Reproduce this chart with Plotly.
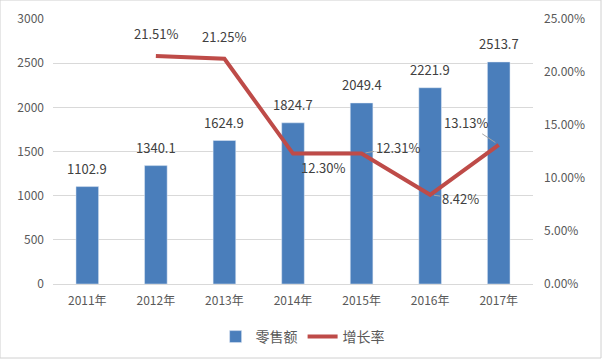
import plotly.graph_objects as go

years = ["2011年", "2012年", "2013年", "2014年", "2015年", "2016年", "2017年"]
sales = [1102.9, 1340.1, 1624.9, 1824.7, 2049.4, 2221.9, 2513.7]
growth_years = ["2012年", "2013年", "2014年", "2015年", "2016年", "2017年"]
growth = [0.2151, 0.2125, 0.1230, 0.1231, 0.0842, 0.1313]
growth_labels = ["21.51%", "21.25%", "12.30%", "12.31%", "8.42%", "13.13%"]
# label pixel offsets (dx, dy-down) relative to each growth point, and leader flag
growth_offsets = [(0, -22, False), (0, -22, False), (30, 14, False),
                  (36, -6, True), (30, 4, True), (-33, -22, True)]

FONT = "Noto Sans CJK SC, Noto Sans, sans-serif"
TICK = "#595959"
BLUE = "#4A7EBB"
RED = "#BE4B48"

fig = go.Figure()
fig.add_trace(go.Bar(x=years, y=sales, name="零售额", marker_color=BLUE,
                     width=0.33, yaxis="y"))
fig.add_trace(go.Scatter(x=growth_years, y=growth, name="增长率", mode="lines",
                         line=dict(color=RED, width=4), yaxis="y2"))

lab_font = dict(size=13, color="#404040", family=FONT)
ann = []
for x, v in zip(years, sales):
    ann.append(dict(x=x, y=v, xref="x", yref="y", text=f"{v:.1f}", showarrow=False,
                    yshift=18, font=lab_font))
for x, v, t, (dx, dy, lead) in zip(growth_years, growth, growth_labels, growth_offsets):
    if lead:
        ann.append(dict(x=x, y=v, xref="x", yref="y2", text=t, showarrow=True,
                        ax=dx, ay=dy, arrowhead=0, arrowwidth=1, arrowcolor="#A6A6A6",
                        standoff=4, font=lab_font))
    else:
        ann.append(dict(x=x, y=v, xref="x", yref="y2", text=t, showarrow=False,
                        xshift=dx, yshift=-dy, font=lab_font))

fig.update_layout(
    width=604, height=362,
    margin=dict(l=53, r=71, t=19, b=78, autoexpand=False),
    paper_bgcolor="white", plot_bgcolor="white",
    font=dict(family=FONT, color=TICK, size=12),
    xaxis=dict(showgrid=False, showline=True, linecolor="#D9D9D9", ticks="",
               tickfont=dict(size=12, color=TICK), ticklabelstandoff=6),
    yaxis=dict(range=[0, 3000], dtick=500, showgrid=True, gridcolor="#D9D9D9",
               zeroline=False, tickfont=dict(size=12, color=TICK), ticklabelstandoff=8),
    yaxis2=dict(range=[0, 0.25], dtick=0.05, tickformat=".2%", overlaying="y",
                side="right", showgrid=False, zeroline=False,
                tickfont=dict(size=12, color=TICK), ticklabelstandoff=10),
    legend=dict(orientation="h", x=0.52, xanchor="center", y=-53/265, yanchor="middle",
                font=dict(size=14, color=TICK, family=FONT)),
    annotations=ann,
    shapes=[dict(type="rect", xref="paper", yref="paper",
                 x0=-53/480, x1=1+68/480, y0=-74/265, y1=1+19/265,
                 line=dict(color="#D0D0D0", width=1))],
)

fig.write_html("out.html")
